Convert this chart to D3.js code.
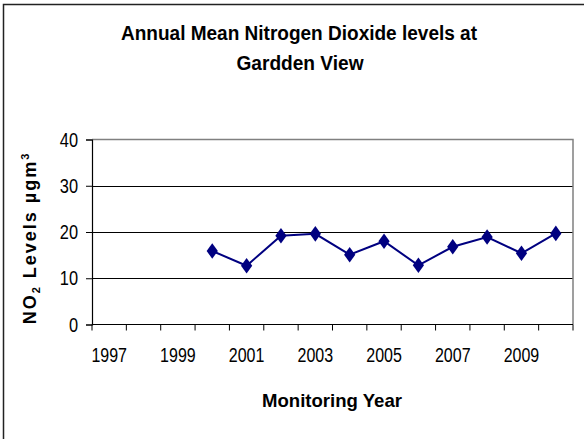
<!DOCTYPE html>
<html>
<head>
<meta charset="utf-8">
<script src="https://cdn.jsdelivr.net/npm/d3@7"></script>
<style>
  body { margin: 0; background: #fff; }
  text { font-family: "Liberation Sans", Arial, sans-serif; fill: #000; }
</style>
</head>
<body>
<svg id="chart"></svg>
<script>
// 类别（年份）
const categories = ["1997", "1998", "1999", "2000", "2001", "2002", "2003",
                    "2004", "2005", "2006", "2007", "2008", "2009", "2010"];
// 测量年份与年均 NO2 值
const measuredYears = ["2000", "2001", "2002", "2003", "2004", "2005",
                       "2006", "2007", "2008", "2009", "2010"];
const no2Values = [15.9, 12.7, 19.2, 19.6, 15.1, 18.0, 12.8, 16.8, 18.9, 15.4, 19.7];
// 刻度
const yTicks = [0, 10, 20, 30, 40];
const xLabels = ["1997", "1999", "2001", "2003", "2005", "2007", "2009"];

const width = 584, height = 439;
const plot = { left: 92, right: 573, top: 139.5, bottom: 324.5 };

const svg = d3.select("#chart")
  .attr("width", width)
  .attr("height", height);

// 外框（右、下被裁掉）
svg.append("path")
  .attr("d", `M3.5,${height + 5} V4.5 H${width + 5}`)
  .attr("fill", "none")
  .attr("stroke", "#222")
  .attr("stroke-width", 1.5);

// 比例尺
const x = d3.scaleBand()
  .domain(categories)
  .range([plot.left, plot.right])
  .padding(0);

const y = d3.scaleLinear()
  .domain([0, 40])
  .range([plot.bottom, plot.top]);

// 网格线
svg.append("g")
  .selectAll("line")
  .data(yTicks.filter(d => d > 0 && d < 40))
  .enter()
  .append("line")
  .attr("x1", plot.left)
  .attr("x2", plot.right)
  .attr("y1", d => Math.round(y(d)) + 0.5)
  .attr("y2", d => Math.round(y(d)) + 0.5)
  .attr("stroke", "#000")
  .attr("stroke-width", 1);

// 绘图区上、右边框（灰色）
svg.append("path")
  .attr("d", `M${plot.left},${plot.top} H${plot.right} V${plot.bottom}`)
  .attr("fill", "none")
  .attr("stroke", "#808080")
  .attr("stroke-width", 1.5);

// Y 轴
const yAxis = svg.append("g")
  .attr("transform", `translate(${plot.left},0)`)
  .call(d3.axisLeft(y).tickValues(yTicks).tickSize(6).tickFormat(d3.format("d")));
yAxis.select(".domain").attr("stroke", "#000").attr("stroke-width", 1.2);
yAxis.selectAll(".tick line").attr("stroke", "#000");
yAxis.selectAll(".tick text").remove();

// Y 标签
svg.append("g")
  .selectAll("text")
  .data(yTicks)
  .enter()
  .append("text")
  .attr("transform", d => `translate(78,${y(d) + 7}) scale(0.82,1)`)
  .attr("text-anchor", "end")
  .attr("font-size", 20)
  .text(d => d);

// X 轴线
svg.append("line")
  .attr("x1", plot.left)
  .attr("x2", plot.right)
  .attr("y1", plot.bottom)
  .attr("y2", plot.bottom)
  .attr("stroke", "#000")
  .attr("stroke-width", 1.2);

// X 刻度（类别边界）
const edges = categories.map(c => x(c)).concat([x(categories[categories.length - 1]) + x.bandwidth()]);
svg.append("g")
  .selectAll("line")
  .data(edges)
  .enter()
  .append("line")
  .attr("x1", d => d)
  .attr("x2", d => d)
  .attr("y1", plot.bottom)
  .attr("y2", plot.bottom + 6)
  .attr("stroke", "#000");

// X 标签
svg.append("g")
  .selectAll("text")
  .data(xLabels)
  .enter()
  .append("text")
  .attr("transform", d => `translate(${x(d) + x.bandwidth() / 2},362) scale(0.8,1)`)
  .attr("text-anchor", "middle")
  .attr("font-size", 20)
  .text(d => d);

// 折线
const line = d3.line()
  .x((d, i) => x(measuredYears[i]) + x.bandwidth() / 2)
  .y(d => y(d));

svg.append("path")
  .datum(no2Values)
  .attr("d", line)
  .attr("fill", "none")
  .attr("stroke", "#000080")
  .attr("stroke-width", 2);

// 菱形标记
const diamond = d3.symbol().type(d3.symbolDiamond).size(70);
svg.append("g")
  .selectAll("path")
  .data(no2Values)
  .enter()
  .append("path")
  .attr("d", diamond)
  .attr("transform", (d, i) => `translate(${x(measuredYears[i]) + x.bandwidth() / 2},${y(d)}) scale(1.25,1)`)
  .attr("fill", "#000080");

// 标题
const title = svg.append("g").attr("font-weight", "bold").attr("font-size", 20);
title.append("text")
  .attr("x", 299)
  .attr("y", 40)
  .attr("text-anchor", "middle")
  .attr("textLength", 356)
  .attr("lengthAdjust", "spacingAndGlyphs")
  .text("Annual Mean Nitrogen Dioxide levels at");
title.append("text")
  .attr("x", 300)
  .attr("y", 70)
  .attr("text-anchor", "middle")
  .attr("textLength", 127)
  .attr("lengthAdjust", "spacingAndGlyphs")
  .text("Gardden View");

// X 轴标题
svg.append("text")
  .attr("x", 332)
  .attr("y", 407)
  .attr("text-anchor", "middle")
  .attr("font-weight", "bold")
  .attr("font-size", 19)
  .attr("textLength", 140)
  .attr("lengthAdjust", "spacingAndGlyphs")
  .text("Monitoring Year");

// Y 轴标题（带下标与上标）
const yTitle = svg.append("text")
  .attr("transform", "translate(36,238) rotate(-90)")
  .attr("text-anchor", "middle")
  .attr("font-weight", "bold")
  .attr("font-size", 18)
  .attr("letter-spacing", 2);
yTitle.append("tspan").text("NO");
yTitle.append("tspan").attr("font-size", 11).attr("dy", 4).text("2");
yTitle.append("tspan").attr("dy", -4).text(" Levels µgm");
yTitle.append("tspan").attr("font-size", 11).attr("dy", -7).text("3");
</script>
</body>
</html>
